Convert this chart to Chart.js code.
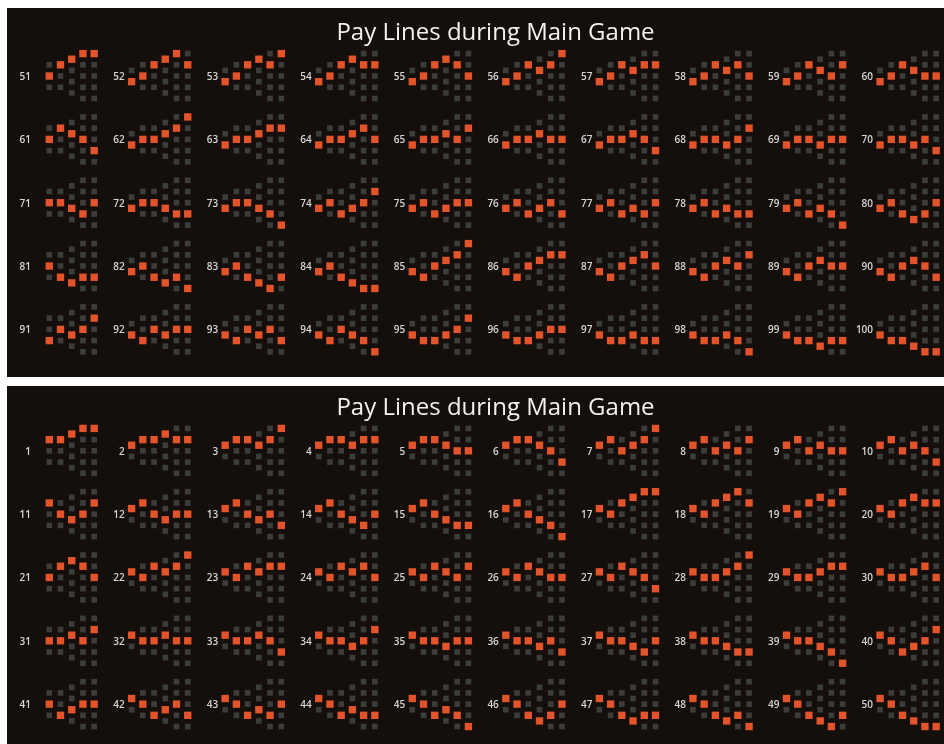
<!DOCTYPE html>
<html>
<head>
<meta charset="utf-8">
<script src="https://cdn.jsdelivr.net/npm/chart.js@4"></script>
<style>
  html, body { margin: 0; padding: 0; background: #ffffff; }
  body { width: 944px; height: 744px; position: relative; overflow: hidden; }
  canvas { position: absolute; left: 7px; }
  #graph-top { top: 8px; }
  #graph-bottom { top: 386px; }
</style>
</head>
<body>
<canvas id="graph-top" width="937" height="369"></canvas>
<canvas id="graph-bottom" width="937" height="358"></canvas>
<script>
// rows per reel, in half-row steps from the middle (negative = up)
const reelLevels = [
  [-1, 1],
  [-2, 0, 2],
  [-2, 0, 2],
  [-3, -1, 1, 3],
  [-4, -2, 0, 2, 4],
  [-4, -2, 0, 2, 4]
];

// pay lines 1 - 50
const linesLow = [
  [-1,-2,-2,-3,-4,-4], [-1,-2,-2,-3,-2,-2], [-1,-2,-2,-1,-2,-4], [-1,-2,-2,-1,-2,-2], [-1,-2,-2,-1,0,0],
  [-1,-2,-2,-1,0,2], [-1,-2,0,-1,-2,-4], [-1,-2,0,-1,0,-2], [-1,-2,0,-1,0,0], [-1,-2,0,-1,0,2],
  [-1,-2,0,1,0,-2], [-1,-2,0,1,0,0], [-1,-2,0,1,0,2], [-1,-2,0,1,2,0], [-1,-2,0,1,2,2],
  [-1,-2,0,1,2,4], [-1,0,-2,-3,-4,-4], [-1,0,-2,-3,-4,-2], [-1,0,-2,-3,-2,-4], [-1,0,-2,-3,-2,-2],
  [-1,0,-2,-3,-2,0], [-1,0,-2,-1,-2,-4], [-1,0,-2,-1,-2,-2], [-1,0,-2,-1,-2,0], [-1,0,-2,-1,0,-2],
  [-1,0,-2,-1,0,0], [-1,0,-2,-1,0,2], [-1,0,0,-1,-2,-4], [-1,0,0,-1,-2,-2], [-1,0,0,-1,-2,0],
  [-1,0,0,-1,0,-2], [-1,0,0,-1,0,0], [-1,0,0,-1,0,2], [-1,0,0,1,0,-2], [-1,0,0,1,0,0],
  [-1,0,0,1,0,2], [-1,0,0,1,2,0], [-1,0,0,1,2,2], [-1,0,0,1,2,4], [-1,0,2,1,0,-2],
  [-1,0,2,1,0,0], [-1,0,2,1,0,2], [-1,0,2,1,2,0], [-1,0,2,1,2,2], [-1,0,2,1,2,4],
  [-1,0,2,3,2,0], [-1,0,2,3,2,2], [-1,0,2,3,2,4], [-1,0,2,3,4,2], [-1,0,2,3,4,4]
];

// pay lines 51 - 100
const linesHigh = [
  [1,0,-2,-3,-4,-4], [1,0,-2,-3,-4,-2], [1,0,-2,-3,-2,-4], [1,0,-2,-3,-2,-2], [1,0,-2,-3,-2,0],
  [1,0,-2,-1,-2,-4], [1,0,-2,-1,-2,-2], [1,0,-2,-1,-2,0], [1,0,-2,-1,0,-2], [1,0,-2,-1,0,0],
  [1,0,-2,-1,0,2], [1,0,0,-1,-2,-4], [1,0,0,-1,-2,-2], [1,0,0,-1,-2,0], [1,0,0,-1,0,-2],
  [1,0,0,-1,0,0], [1,0,0,-1,0,2], [1,0,0,1,0,-2], [1,0,0,1,0,0], [1,0,0,1,0,2],
  [1,0,0,1,2,0], [1,0,0,1,2,2], [1,0,0,1,2,4], [1,0,2,1,0,-2], [1,0,2,1,0,0],
  [1,0,2,1,0,2], [1,0,2,1,2,0], [1,0,2,1,2,2], [1,0,2,1,2,4], [1,0,2,3,2,0],
  [1,0,2,3,2,2], [1,0,2,3,2,4], [1,0,2,3,4,2], [1,0,2,3,4,4], [1,2,0,-1,-2,-4],
  [1,2,0,-1,-2,-2], [1,2,0,-1,-2,0], [1,2,0,-1,0,-2], [1,2,0,-1,0,0], [1,2,0,-1,0,2],
  [1,2,0,1,0,-2], [1,2,0,1,0,0], [1,2,0,1,0,2], [1,2,0,1,2,4], [1,2,2,1,0,-2],
  [1,2,2,1,0,0], [1,2,2,1,2,2], [1,2,2,1,2,4], [1,2,2,3,2,2], [1,2,2,3,4,4]
];

const panelTitle = 'Pay Lines during Main Game';
const perRow = 10;
const colStep = 0.12;     // reel spacing, in cell widths
const levelStep = 0.0886; // half-row spacing, in row heights

const backgroundPlugin = {
  id: 'panelBackground',
  beforeDraw(chart) {
    const ctx = chart.ctx;
    ctx.save();
    ctx.fillStyle = '#150f0c';
    ctx.fillRect(0, 0, chart.width, chart.height);
    ctx.restore();
  }
};

const numberPlugin = {
  id: 'lineNumbers',
  afterDatasetsDraw(chart) {
    const ctx = chart.ctx;
    const first = chart.options.plugins.lineNumbers.first;
    const count = chart.options.plugins.lineNumbers.count;
    const xs = chart.scales.x, ys = chart.scales.y;
    ctx.save();
    ctx.fillStyle = '#d6d6d6';
    ctx.font = '600 10px "Open Sans", sans-serif';
    ctx.textAlign = 'right';
    ctx.textBaseline = 'middle';
    for (let i = 0; i < count; i++) {
      const k = i % perRow, r = Math.floor(i / perRow);
      ctx.fillText(String(first + i), xs.getPixelForValue(k) - 7, ys.getPixelForValue(r) + 1);
    }
    ctx.restore();
  }
};

function buildPanel(canvasId, lines, first, titleTop, yMin, yMax) {
  const grid = [], marks = [];
  lines.forEach((line, i) => {
    const k = i % perRow, r = Math.floor(i / perRow);
    reelLevels.forEach((levels, c) => {
      levels.forEach(lv => grid.push({ x: k + c * colStep, y: r + lv * levelStep }));
      marks.push({ x: k + c * colStep, y: r + line[c] * levelStep });
    });
  });

  const config = {
    type: 'scatter',
    data: {
      datasets: [
        {
          label: 'pay line',
          data: marks,
          order: 1,
          pointStyle: 'rect',
          pointRadius: 5.2,
          pointBackgroundColor: '#e4542a',
          pointBorderColor: '#e4542a',
          pointBorderWidth: 0,
          clip: false
        },
        {
          label: 'reels',
          data: grid,
          order: 2,
          pointStyle: 'rect',
          pointRadius: 4,
          pointBackgroundColor: '#3b3c3c',
          pointBorderColor: '#3b3c3c',
          pointBorderWidth: 0,
          clip: false
        }
      ]
    },
    options: {
      responsive: false,
      animation: false,
      layout: { padding: { left: 40 } },
      scales: {
        x: { display: false, min: 0.0956, max: 9.628 },
        y: { display: false, reverse: true, min: yMin, max: yMax }
      },
      plugins: {
        legend: { display: false },
        tooltip: { enabled: false },
        title: {
          display: true,
          text: panelTitle,
          color: '#f2f2f2',
          font: { family: 'Open Sans', size: 24, weight: 'normal', lineHeight: 1.2 },
          padding: { top: titleTop, bottom: 0 }
        },
        lineNumbers: { first: first, count: lines.length }
      }
    },
    plugins: [backgroundPlugin, numberPlugin]
  };
  return new Chart(document.getElementById(canvasId), config);
}

buildPanel('graph-top', linesHigh, 51, 11, -0.446, 4.670);
buildPanel('graph-bottom', linesLow, 1, 8, -0.443, 4.548);
</script>
</body>
</html>
